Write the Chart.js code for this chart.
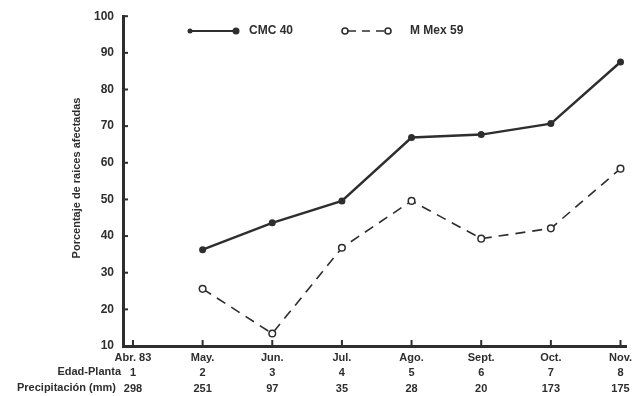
<!DOCTYPE html>
<html>
<head>
<meta charset="utf-8">
<script src="https://cdn.jsdelivr.net/npm/chart.js@4"></script>
<style>
  html, body { margin: 0; padding: 0; background: #fff; }
  #wrap { width: 632px; height: 396px; }
</style>
</head>
<body>
<div id="wrap"><canvas id="roots" width="632" height="396"></canvas></div>
<script>
// data
const months = ['Abr. 83', 'May.', 'Jun.', 'Jul.', 'Ago.', 'Sept.', 'Oct.', 'Nov.'];
const plantAge = ['1', '2', '3', '4', '5', '6', '7', '8'];
const rainMm = ['298', '251', '97', '35', '28', '20', '173', '175'];
const cmc40 = [null, 36.3, 43.6, 49.6, 66.9, 67.7, 70.7, 87.5];
const mMex59 = [null, 25.6, 13.4, 36.8, 49.6, 39.3, 42.1, 58.4];
const yTicks = [10, 20, 30, 40, 50, 60, 70, 80, 90, 100];

const ink = '#2e2e2e';
const labelFont = 'bold 11px "Liberation Sans", Arial, sans-serif';

function toPoints(arr) {
    return arr.map((v, i) => ({ x: i, y: v }));
}

// legend, row headers, axis title and the small tick marks
const extras = {
    id: 'extras',
    afterDraw(chart) {
        const { ctx, chartArea } = chart;
        const xs = chart.scales.x;
        const ys = chart.scales.y;
        ctx.save();
        ctx.strokeStyle = ink;
        ctx.lineWidth = 2;

        // x tick marks pointing up
        for (let i = 0; i < months.length; i++) {
            const px = xs.getPixelForValue(i);
            ctx.beginPath();
            ctx.moveTo(px, chartArea.bottom);
            ctx.lineTo(px, chartArea.bottom - 6);
            ctx.stroke();
        }
        // y tick marks pointing right
        yTicks.slice(1).forEach((v) => {
            const py = ys.getPixelForValue(v);
            ctx.beginPath();
            ctx.moveTo(chartArea.left, py);
            ctx.lineTo(chartArea.left + 5, py);
            ctx.stroke();
        });

        // row headers under the axis
        ctx.fillStyle = ink;
        ctx.font = labelFont;
        ctx.textAlign = 'right';
        ctx.textBaseline = 'middle';
        ctx.fillText('Edad-Planta', 121, 372);
        ctx.fillText('Precipitación (mm)', 116, 388);

        // y axis title
        ctx.save();
        ctx.translate(77, 178);
        ctx.rotate(-Math.PI / 2);
        ctx.textAlign = 'center';
        ctx.font = 'bold 11px "Liberation Sans", Arial, sans-serif';
        ctx.fillText('Porcentaje de raices afectadas', 0, 0);
        ctx.restore();

        // legend
        const ly = 31;
        ctx.lineWidth = 2.2;
        ctx.beginPath();
        ctx.moveTo(190, ly);
        ctx.lineTo(236, ly);
        ctx.stroke();
        ctx.beginPath();
        ctx.arc(190, ly, 2.5, 0, Math.PI * 2);
        ctx.fill();
        ctx.beginPath();
        ctx.arc(236, ly, 3.5, 0, Math.PI * 2);
        ctx.fill();

        ctx.lineWidth = 1.6;
        ctx.setLineDash([8, 6]);
        ctx.beginPath();
        ctx.moveTo(348, ly);
        ctx.lineTo(385, ly);
        ctx.stroke();
        ctx.setLineDash([]);
        [345, 388].forEach((cx) => {
            ctx.beginPath();
            ctx.arc(cx, ly, 3, 0, Math.PI * 2);
            ctx.fillStyle = '#fff';
            ctx.fill();
            ctx.stroke();
        });

        ctx.fillStyle = ink;
        ctx.font = 'bold 12px "Liberation Sans", Arial, sans-serif';
        ctx.textAlign = 'left';
        ctx.fillText('CMC 40', 249, ly);
        ctx.fillText('M Mex 59', 410, ly);
        ctx.restore();
    }
};

const ctx = document.getElementById('roots').getContext('2d');

new Chart(ctx, {
    type: 'line',
    data: {
        datasets: [
            {
                label: 'CMC 40',
                data: toPoints(cmc40),
                borderColor: ink,
                backgroundColor: ink,
                borderWidth: 2.4,
                pointRadius: 3.5,
                pointBackgroundColor: ink,
                pointBorderWidth: 0,
                tension: 0,
            },
            {
                label: 'M Mex 59',
                data: toPoints(mMex59),
                borderColor: ink,
                backgroundColor: '#fff',
                borderWidth: 1.6,
                borderDash: [10, 7],
                pointRadius: 3.3,
                pointBackgroundColor: '#fff',
                pointBorderColor: ink,
                pointBorderWidth: 1.5,
                tension: 0,
            },
        ],
    },
    options: {
        responsive: false,
        animation: false,
        layout: {
            padding: { top: 14, right: 4, left: 0, bottom: 0 },
        },
        plugins: {
            legend: { display: false },
            tooltip: { enabled: false },
        },
        scales: {
            x: {
                type: 'linear',
                min: -0.143,
                max: 7.086,
                grid: { display: false, drawTicks: false },
                border: { display: true, width: 3, color: ink },
                afterBuildTicks(scale) {
                    scale.ticks = months.map((m, i) => ({ value: i }));
                },
                afterFit(scale) {
                    scale.height = 50;
                    scale.paddingLeft = 0;
                    scale.paddingRight = 0;
                },
                ticks: {
                    autoSkip: false,
                    maxRotation: 0,
                    padding: 4,
                    color: ink,
                    font: { family: '"Liberation Sans", Arial, sans-serif', size: 11, weight: 'bold', lineHeight: 1.4 },
                    callback: (v) => [months[v], plantAge[v], rainMm[v]],
                },
            },
            y: {
                min: 10,
                max: 100,
                grid: { display: false, drawTicks: false },
                border: { display: true, width: 3, color: ink },
                afterBuildTicks(scale) {
                    scale.ticks = yTicks.map((v) => ({ value: v }));
                },
                afterFit(scale) {
                    scale.width = 123;
                },
                ticks: {
                    padding: 9,
                    color: ink,
                    font: { family: '"Liberation Sans", Arial, sans-serif', size: 12, weight: 'bold' },
                },
            },
        },
    },
    plugins: [extras],
});
</script>
</body>
</html>
